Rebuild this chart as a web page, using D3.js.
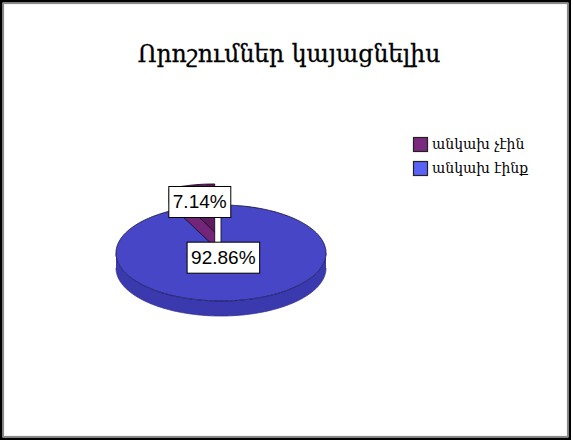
<!DOCTYPE html>
<html>
<head>
<meta charset="utf-8">
<script src="https://cdn.jsdelivr.net/npm/d3@7/dist/d3.min.js"></script>
<style>
  html, body { margin: 0; padding: 0; background: #fff; }
  svg { display: block; }
</style>
</head>
<body>
<div id="chart"></div>
<script>
// Data
const title = "Որոշումներ կայացնելիս";
const categories = ["անկախ չէին", "անկախ էինք"];
const values = [7.14, 92.86];
const valueLabels = ["7.14%", "92.86%"];

// Styling
const topColors = ["#5e1b62", "#4646c6"];
const sideColors = ["#74257a", "#3a3aae"];
const legendColors = ["#7a2a7e", "#5a62f6"];

const W = 573, H = 442;
const svg = d3.select("#chart").append("svg")
  .attr("width", W).attr("height", H);

// frame
svg.append("rect").attr("x", 1.25).attr("y", 1.25)
  .attr("width", W - 4.5).attr("height", H - 4.5)
  .attr("fill", "#fff").attr("stroke", "#000").attr("stroke-width", 2.5);
svg.append("rect").attr("x", 3.5).attr("y", 3.5)
  .attr("width", W - 9).attr("height", H - 9)
  .attr("fill", "none").attr("stroke", "#8a8a8a").attr("stroke-width", 1.2);

// title
svg.append("text")
  .attr("x", 289).attr("y", 62)
  .attr("text-anchor", "middle")
  .attr("font-family", "'DejaVu Serif', 'DejaVu Sans', serif")
  .attr("font-size", 23.5)
  .attr("fill", "#000")
  .attr("stroke", "#000").attr("stroke-width", 0.3)
  .text(title);

// 3D pie geometry
const cx = 221, cy = 253, rx = 105, ry = 48, depth = 15;
const explode = [0.45, 0];
const explodeSkewX = 0.6;   // the exploded slice drifts mostly backwards

const total = d3.sum(values);
const firstAngle = -2 * Math.PI * values[0] / total;
const pie = d3.pie().sort(null)
  .startAngle(firstAngle)
  .endAngle(firstAngle + 2 * Math.PI);
const arcs = pie(values);

// projected point on the tilted disc: angle a (0 = back, clockwise), radius fraction k
function proj(a, k, ox, oy, dz) {
  return [ox + k * rx * Math.sin(a), oy - k * ry * Math.cos(a) + (dz || 0)];
}
function rim(a0, a1, ox, oy, dz) {
  const n = Math.max(2, Math.ceil(Math.abs(a1 - a0) / 0.01));
  return d3.range(n + 1).map(i => proj(a0 + (a1 - a0) * i / n, 1, ox, oy, dz));
}
const line = d3.line();

arcs.forEach((d, i) => {
  const mid = (d.startAngle + d.endAngle) / 2;
  d.ox = cx + explode[i] * explodeSkewX * rx * Math.sin(mid);
  d.oy = cy - explode[i] * ry * Math.cos(mid);
  d.mid = mid;
});

const pieG = svg.append("g");

arcs.forEach((d, i) => {
  const g = pieG.append("g");
  const a0 = d.startAngle, a1 = d.endAngle;

  // cut face at the start edge, drawn when it faces the viewer
  const faceVisible = (a) => Math.cos(a) > 0 && Math.sin(a) < 0;
  if (faceVisible(a0)) {
    const c = [d.ox, d.oy], r = proj(a0, 1, d.ox, d.oy);
    const pts = [c, r, [r[0], r[1] + depth], [c[0], c[1] + depth]];
    g.append("path").attr("d", line(pts) + "Z")
      .attr("fill", sideColors[i]).attr("stroke", "#1a0a1a").attr("stroke-width", 0.9);
  }

  // outer side wall, front half only
  const s0 = Math.max(a0, Math.PI / 2), s1 = Math.min(a1, 3 * Math.PI / 2);
  if (s1 > s0) {
    const upper = rim(s0, s1, d.ox, d.oy, 0);
    const lower = rim(s0, s1, d.ox, d.oy, depth).reverse();
    g.append("path").attr("d", line(upper.concat(lower)) + "Z")
      .attr("fill", sideColors[i]).attr("stroke", "none");
    g.append("path").attr("d", line(rim(s0, s1, d.ox, d.oy, depth)))
      .attr("fill", "none").attr("stroke", "#2c2c90").attr("stroke-width", 0.8);
  }

  // top surface
  const topPts = [[d.ox, d.oy]].concat(rim(a0, a1, d.ox, d.oy, 0));
  g.append("path").attr("d", line(topPts) + "Z")
    .attr("fill", topColors[i])
    .attr("stroke", i === 0 ? "#1a0a1a" : "#15153a")
    .attr("stroke-width", 0.9)
    .attr("stroke-linejoin", "round");
  if (s1 > s0) {
    g.append("path").attr("d", line(rim(s0, s1, d.ox, d.oy, 0)))
      .attr("fill", "none").attr("stroke", "#3434a4").attr("stroke-width", 1)
      .attr("stroke-dasharray", "3,2");
  }
});

// data labels
const labelPos = [0.64, 0.1];
arcs.forEach((d, i) => {
  const p = proj(d.mid, labelPos[i], d.ox, d.oy);
  const g = svg.append("g");
  const t = g.append("text")
    .attr("x", p[0]).attr("y", p[1])
    .attr("text-anchor", "middle")
    .attr("dominant-baseline", "central")
    .attr("font-family", "'Liberation Sans', Arial, sans-serif")
    .attr("font-size", 19)
    .attr("fill", "#000")
    .text(valueLabels[i]);
  const bb = t.node().getBBox();
  g.insert("rect", "text")
    .attr("x", bb.x - 4).attr("y", p[1] - 15.5)
    .attr("width", bb.width + 8).attr("height", 31)
    .attr("fill", "#fff").attr("stroke", "#000").attr("stroke-width", 1);
});

// legend
const legend = svg.append("g").attr("transform", "translate(413,137)");
categories.forEach((c, i) => {
  const row = legend.append("g").attr("transform", `translate(0,${i * 24})`);
  row.append("rect").attr("x", 0.5).attr("y", 0.5).attr("width", 14).attr("height", 14)
    .attr("fill", legendColors[i]).attr("stroke", "#222").attr("stroke-width", 1.2);
  row.append("text").attr("x", 19).attr("y", 12)
    .attr("font-family", "'DejaVu Serif', 'DejaVu Sans', serif")
    .attr("font-size", 14)
    .attr("fill", "#000")
    .text(c);
});
</script>
</body>
</html>
